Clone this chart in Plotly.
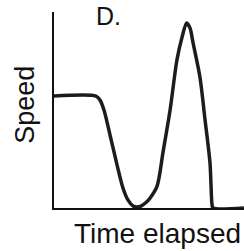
import plotly.graph_objects as go

# Data (time in % of axis, speed in % of axis)
time_elapsed = [0, 22.1, 24.2, 26.3, 29.5, 33.2, 36.3, 38.9, 41.6, 43.7, 45.8, 48.4,
                50.5, 54.2, 57.4, 61.1, 64.7, 67.4, 69.8, 71.6, 73.2, 76.8, 79.5,
                82.1, 83.2, 83.7, 100]
speed = [57.1, 57.1, 55.1, 50.0, 37.2, 21.9, 10.2, 4.1, 1.0, 0.5, 1.0, 2.8,
         5.0, 11.0, 28.6, 50.0, 75.5, 87.2, 94.4, 91.8, 84.2, 66.8, 44.9,
         23.0, 1.5, 0, 0]

panel_label = "D."
x_title = "Time elapsed"
y_title = "Speed"

fig = go.Figure()
fig.add_trace(go.Scatter(
    x=time_elapsed, y=speed, mode="lines",
    line=dict(color="#1c1c1c", width=3.5, shape="spline", smoothing=0.8),
    hoverinfo="skip", showlegend=False, cliponaxis=False,
))

font = "Liberation Sans, Arial, sans-serif"
fig.update_layout(
    width=244, height=251,
    margin=dict(l=54, r=0, t=12, b=43),
    paper_bgcolor="white", plot_bgcolor="white",
    xaxis=dict(range=[0, 100], showline=True, linecolor="#111", linewidth=2,
               showgrid=False, zeroline=False, showticklabels=False, ticks=""),
    yaxis=dict(range=[0, 100], showline=True, linecolor="#111", linewidth=2,
               showgrid=False, zeroline=False, showticklabels=False, ticks=""),
    annotations=[
        dict(text=panel_label, xref="paper", yref="paper", x=0.289, y=0.98,
             xanchor="center", yanchor="middle", showarrow=False,
             font=dict(family=font, size=25, color="#111")),
        dict(text=y_title, xref="paper", yref="paper", x=-0.153, y=0.526,
             xanchor="center", yanchor="middle", showarrow=False, textangle=-90,
             font=dict(family=font, size=27, color="#111")),
        dict(text=x_title, xref="paper", yref="paper", x=0.0947, y=-0.1276,
             xanchor="left", yanchor="middle", showarrow=False,
             font=dict(family=font, size=28, color="#111")),
    ],
)

fig.write_html("out.html",
               config={"displayModeBar": False, "staticPlot": True},
               post_script="document.body.style.margin='0';document.body.style.overflow='hidden';")
